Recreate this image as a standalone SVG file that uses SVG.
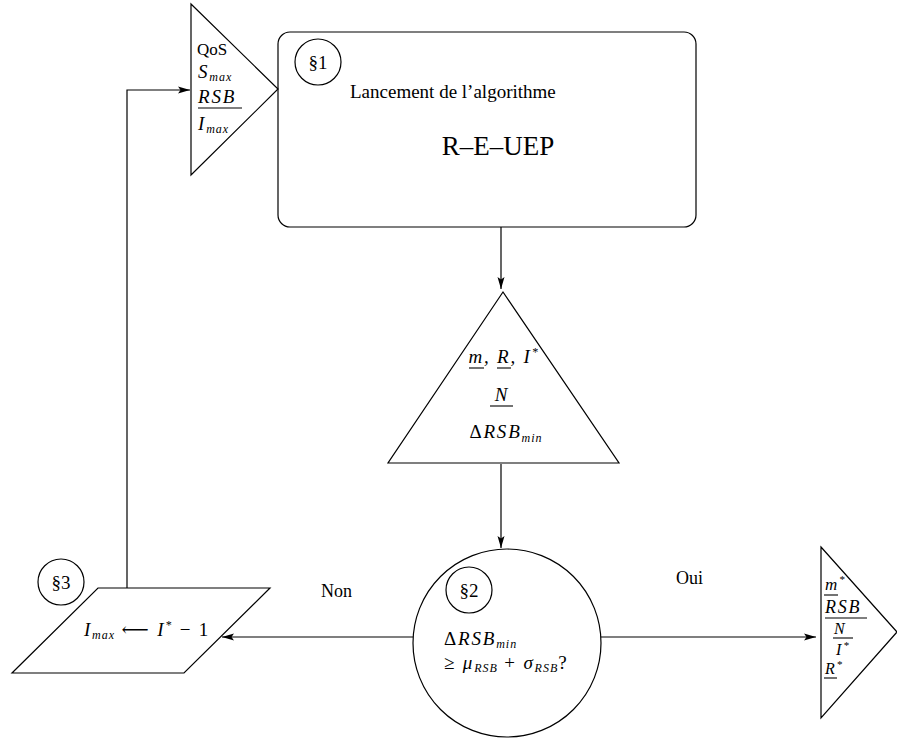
<svg xmlns="http://www.w3.org/2000/svg" width="897" height="740" viewBox="0 0 897 740">
<style>
.s{fill:none;stroke:#000;stroke-width:1.2}
text{font-family:"Liberation Serif","Times New Roman","DejaVu Serif",serif;fill:#000}
.m{font-style:italic;letter-spacing:1.8px}
.n{font-style:normal}
.sub{font-size:12px;letter-spacing:1px}
.u{stroke:#000;stroke-width:1.1}
</style>
<defs>
<marker id="ah" markerWidth="14" markerHeight="10" refX="12" refY="5" orient="auto" markerUnits="userSpaceOnUse">
<path d="M0,1.5 L12,5 L0,8.5 L2.5,5 Z" fill="#000"/>
</marker>
</defs>
<rect width="897" height="740" fill="#fff"/>

<g id="connectors">
<path class="s" d="M127,588 V90 H190" marker-end="url(#ah)"/>
<path class="s" d="M501,227 V289" marker-end="url(#ah)"/>
<path class="s" d="M501,464 V548" marker-end="url(#ah)"/>
<path class="s" d="M413,637 H222" marker-end="url(#ah)"/>
<path class="s" d="M601,637 H816" marker-end="url(#ah)"/>
<text x="321" y="597" font-size="18">Non</text>
<text x="676" y="584" font-size="18">Oui</text>
</g>

<g id="input">
<path class="s" d="M191,4 L278,89 L191,175 Z"/>
<text x="197" y="55" font-size="17">QoS</text>
<text class="m" x="198" y="78" font-size="19">S<tspan class="sub" dy="3">max</tspan></text>
<text class="m" x="198" y="103" font-size="19">RSB</text>
<line class="u" x1="198" y1="108" x2="242" y2="108"/>
<text class="m" x="198" y="130" font-size="19">I<tspan class="sub" dy="3">max</tspan></text>
</g>

<g id="launch">
<rect class="s" x="278" y="32" width="418" height="195" rx="12" ry="12"/>
<circle class="s" cx="318" cy="62" r="23"/>
<text x="318" y="69" font-size="19" text-anchor="middle">§1</text>
<text x="350" y="98" font-size="19">Lancement de l’algorithme</text>
<text x="498" y="155" font-size="27" text-anchor="middle">R–E–UEP</text>
</g>

<g id="params">
<path class="s" d="M503,292 L619,463 L388,463 Z"/>
<text class="m" x="504" y="363" font-size="19" text-anchor="middle">m, R, I<tspan font-size="12" dy="-7">*</tspan></text>
<line class="u" x1="469" y1="368" x2="484" y2="368"/>
<line class="u" x1="497" y1="368" x2="511" y2="368"/>
<text class="m" x="502" y="401" font-size="19" text-anchor="middle">N</text>
<line class="u" x1="490" y1="406" x2="513" y2="406"/>
<text class="m" x="506" y="438" font-size="19" text-anchor="middle"><tspan class="n">Δ</tspan>RSB<tspan class="sub" dy="4">min</tspan></text>
</g>

<g id="test">
<circle class="s" cx="507" cy="643" r="94"/>
<circle class="s" cx="469" cy="590" r="23"/>
<text x="469" y="597" font-size="19" text-anchor="middle">§2</text>
<text class="m" x="444" y="645" font-size="19"><tspan class="n">Δ</tspan>RSB<tspan class="sub" dy="3">min</tspan></text>
<text class="m" x="444" y="669" font-size="19"><tspan class="n">≥</tspan>  μ<tspan class="sub" dy="3">RSB</tspan><tspan dy="-3" class="n"> + </tspan> σ<tspan class="sub" dy="3">RSB</tspan><tspan dy="-3" class="n">?</tspan></text>
</g>

<g id="update">
<path class="s" d="M98,588 L270,588 L184,673 L12,673 Z"/>
<circle class="s" cx="61" cy="582" r="23"/>
<text x="61" y="589" font-size="19" text-anchor="middle">§3</text>
<text class="m" x="147" y="636" font-size="19" text-anchor="middle">I<tspan class="sub" dy="3">max</tspan><tspan dy="-3" class="n"> ⟵ </tspan>I<tspan font-size="12" dy="-7">*</tspan><tspan dy="7" class="n"> − 1</tspan></text>
</g>

<g id="output">
<path class="s" d="M821,547 L897,632 L821,718 Z"/>
<text class="m" x="825" y="590" font-size="17">m<tspan font-size="11" dy="-7">*</tspan></text>
<line class="u" x1="824" y1="595" x2="838" y2="595"/>
<text class="m" x="825" y="613" font-size="18">RSB</text>
<line class="u" x1="825" y1="618" x2="867" y2="618"/>
<text class="m" x="834" y="634" font-size="16">N</text>
<line class="u" x1="833" y1="638" x2="853" y2="638"/>
<text class="m" x="836" y="655" font-size="16">I<tspan font-size="11" dy="-6">*</tspan></text>
<text class="m" x="825" y="674" font-size="16">R<tspan font-size="11" dy="-6">*</tspan></text>
<line class="u" x1="824" y1="678" x2="837" y2="678"/>
</g>
</svg>
